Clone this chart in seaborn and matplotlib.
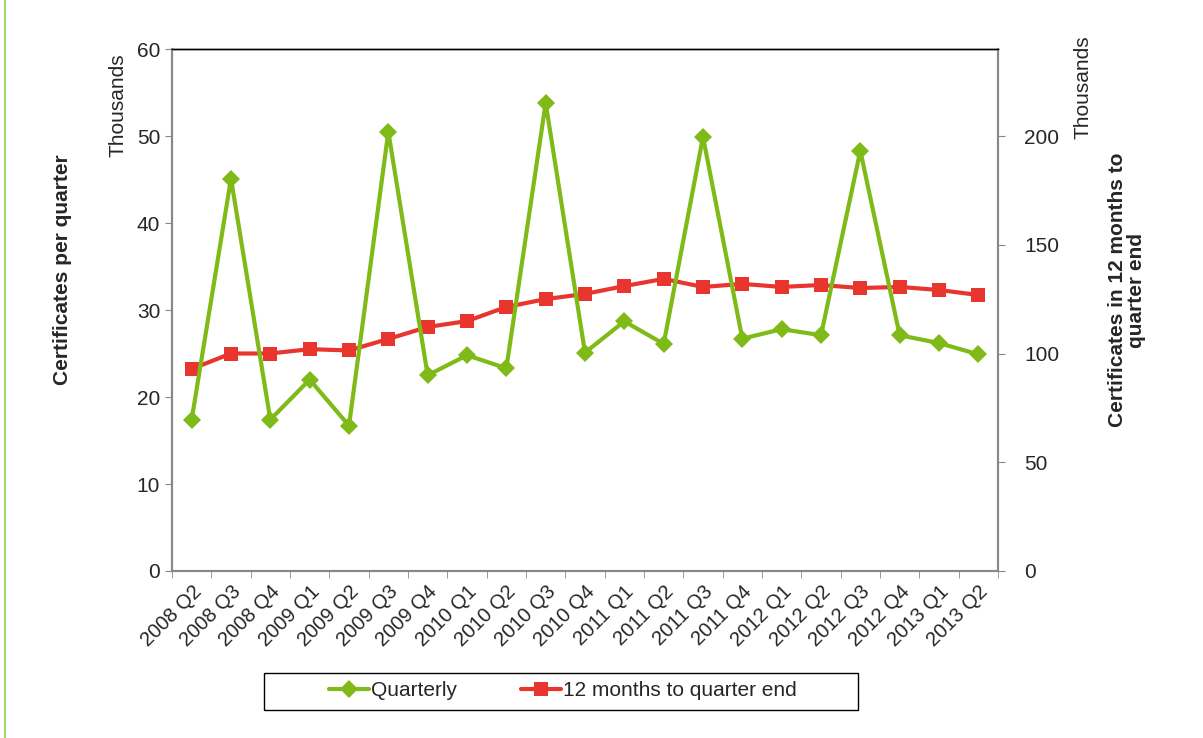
import numpy as np
import pandas as pd
import matplotlib
matplotlib.use("Agg")
import matplotlib.pyplot as plt
from matplotlib.lines import Line2D
from matplotlib.patches import Rectangle
from matplotlib.ticker import MultipleLocator, FixedLocator
import seaborn as sns

# Data (values in thousands)
quarters = ["2008 Q2", "2008 Q3", "2008 Q4", "2009 Q1", "2009 Q2", "2009 Q3", "2009 Q4",
            "2010 Q1", "2010 Q2", "2010 Q3", "2010 Q4", "2011 Q1", "2011 Q2", "2011 Q3",
            "2011 Q4", "2012 Q1", "2012 Q2", "2012 Q3", "2012 Q4", "2013 Q1", "2013 Q2"]
quarterly = [17.4, 45.1, 17.4, 22.0, 16.7, 50.5, 22.5, 24.8, 23.3, 53.8, 25.1,
             28.7, 26.1, 49.9, 26.7, 27.8, 27.1, 48.3, 27.1, 26.2, 24.9]
rolling_12m = [92.9, 100.0, 100.0, 102.0, 101.4, 106.7, 112.2, 114.9, 121.4, 125.0, 127.4,
               131.0, 134.3, 130.6, 132.0, 130.6, 131.5, 130.1, 130.6, 129.2, 126.9]

df = pd.DataFrame({"pos": np.arange(len(quarters)), "quarter": quarters,
                   "quarterly": quarterly, "rolling": rolling_12m})

sns.set_style("white")
plt.rcParams["font.family"] = ["Liberation Sans", "DejaVu Sans"]

green = "#7fba18"
red = "#e8352e"
grey = "#888888"
fs = 15

W, H = 1203, 738
fig = plt.figure(figsize=(W / 100, H / 100), dpi=100)
ax = fig.add_axes([172 / W, 1 - 571 / H, (998 - 172) / W, (571 - 49) / H])
ax2 = ax.twinx()

sns.lineplot(data=df, x="pos", y="quarterly", ax=ax, color=green, lw=3,
             marker="D", markersize=9, markeredgewidth=0, zorder=3)
sns.lineplot(data=df, x="pos", y="rolling", ax=ax2, color=red, lw=3,
             marker="s", markersize=10, markeredgewidth=0, zorder=3)
# keep quarterly line on top
ax.set_zorder(ax2.get_zorder() + 1)
ax.patch.set_visible(False)

n = len(quarters)
ax.set_xlim(-0.5, n - 0.5)
ax.set_ylim(0, 60)
ax2.set_ylim(0, 240)
ax.yaxis.set_major_locator(MultipleLocator(10))
ax2.yaxis.set_major_locator(FixedLocator([0, 50, 100, 150, 200]))

ax.set_xticks(df["pos"])
ax.set_xticklabels(quarters, rotation=45, ha="right", rotation_mode="anchor", fontsize=14.5)
ax.xaxis.set_minor_locator(FixedLocator(np.arange(-0.5, n, 1)))
ax.tick_params(axis="x", which="major", length=0, pad=8)
ax.tick_params(axis="x", which="minor", length=5, color=grey, direction="out", bottom=True)
ax.tick_params(axis="y", length=5, color=grey, direction="out", labelsize=fs, left=True)
ax2.tick_params(axis="y", length=5, color=grey, direction="out", labelsize=fs, right=True, pad=14)

ax.set_xlabel("")
ax.set_ylabel("")
ax2.set_ylabel("")

for a in (ax, ax2):
    for s in a.spines.values():
        s.set_color(grey)
        s.set_linewidth(1.5)
    a.spines["top"].set_color("black")
    a.spines["top"].set_linewidth(1)

# axis titles
fig.text(62 / W, 1 - 270 / H, "Certificates per quarter", rotation=90, fontsize=fs,
         fontweight="bold", ha="center", va="center")
fig.text(118 / W, 1 - 105 / H, "Thousands", rotation=90, fontsize=fs, ha="center", va="center")
fig.text(1083 / W, 1 - 87 / H, "Thousands", rotation=90, fontsize=fs, ha="center", va="center")
fig.text(1127 / W, 1 - 290 / H, "Certificates in 12 months to\nquarter end", rotation=90,
         fontsize=fs, fontweight="bold", ha="center", va="center", linespacing=1.05)

# left border line of the chart frame
fig.add_artist(Line2D([5 / W, 5 / W], [0, 1], color="#8fd14f", lw=1.2))

# legend with its own rectangular frame
handles = [Line2D([], [], color=green, lw=3, marker="D", markersize=9, markeredgewidth=0),
           Line2D([], [], color=red, lw=3, marker="s", markersize=10, markeredgewidth=0)]
fig.legend(handles, ["Quarterly", "12 months to quarter end"], loc="center",
           bbox_to_anchor=(563 / W, 1 - 691 / H), ncol=2, fontsize=fs,
           frameon=False, handlelength=1.9, handletextpad=0.1, columnspacing=3.1)
fig.add_artist(Rectangle((264 / W, 1 - 710 / H), (858 - 264) / W, (710 - 673) / H,
                         transform=fig.transFigure, fill=False, edgecolor="black", lw=1))

fig.savefig("out.png", dpi=100)
